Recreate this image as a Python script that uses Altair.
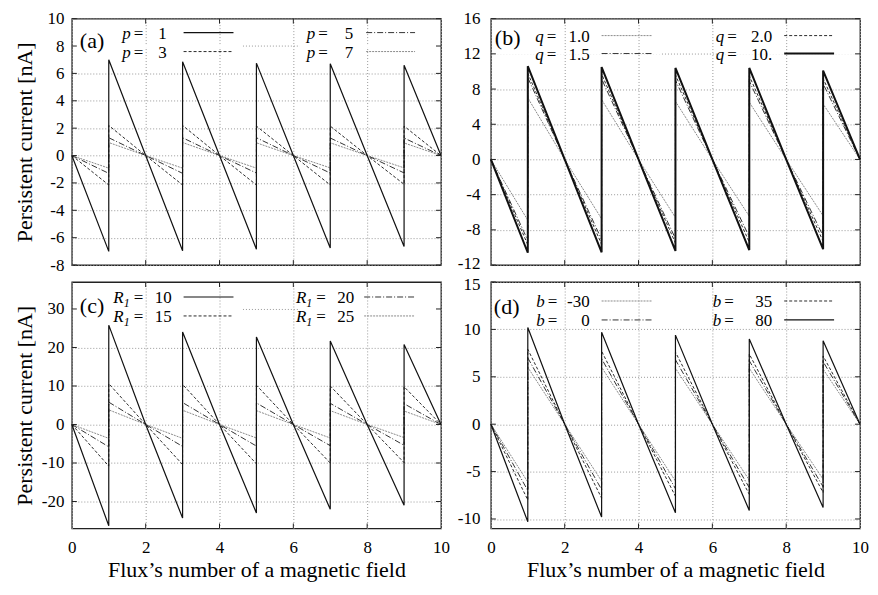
import altair as alt
import pandas as pd

FONT = "Liberation Serif, Times New Roman, serif"

# ---------------- data ----------------
X_JUMPS = [1, 3, 5, 7, 9]          # flux values where the current jumps
X_TICKS = [0, 2, 4, 6, 8, 10]

# panel (a): parameter p
A_VALUES = ["1", "3", "5", "7"]
A_STYLES = ["solid", "dashed", "dashdot", "dotted"]
A_HIGH = [[7.0, 6.85, 6.75, 6.7, 6.6],
          [2.2, 2.2, 2.15, 2.15, 2.15],
          [1.3, 1.3, 1.3, 1.28, 1.28],
          [0.95, 0.95, 0.93, 0.93, 0.92]]
A_LOW = [[7.0, 6.95, 6.85, 6.75, 6.65],
         [2.15, 2.15, 2.15, 2.15, 2.1],
         [1.3, 1.3, 1.28, 1.28, 1.27],
         [0.92, 0.92, 0.92, 0.9, 0.9]]
A_YDOM = [-8, 10]
A_YTICKS = [-8, -6, -4, -2, 0, 2, 4, 6, 8, 10]

# panel (b): parameter q
B_VALUES = ["1.0", "1.5", "2.0", "10."]
B_STYLES = ["dotted", "dashdot", "dashed", "thick"]
B_HIGH = [[7.0, 6.8, 6.6, 6.5, 6.3],
          [9.3, 9.15, 9.0, 8.9, 8.6],
          [9.8, 9.7, 9.6, 9.5, 9.2],
          [10.6, 10.5, 10.4, 10.4, 10.1]]
B_LOW = [[6.9, 6.75, 6.6, 6.45, 6.4],
         [9.2, 9.1, 9.0, 8.8, 8.7],
         [9.7, 9.65, 9.5, 9.4, 9.3],
         [10.6, 10.55, 10.4, 10.3, 10.2]]
B_YDOM = [-12, 16]
B_YTICKS = [-12, -8, -4, 0, 4, 8, 12, 16]

# panel (c): parameter R_1
C_VALUES = ["10", "15", "20", "25"]
C_STYLES = ["solid", "dashed", "dashdot", "dotted"]
C_HIGH = [[25.8, 24.0, 22.7, 21.7, 20.8],
          [10.6, 10.4, 10.2, 10.0, 9.8],
          [5.8, 5.7, 5.6, 5.5, 5.4],
          [3.8, 3.7, 3.6, 3.6, 3.5]]
C_LOW = [[26.3, 24.3, 23.0, 22.0, 21.0],
         [10.8, 10.4, 10.2, 10.0, 9.9],
         [5.8, 5.7, 5.6, 5.5, 5.4],
         [3.6, 3.6, 3.5, 3.5, 3.4]]
C_YDOM = [-27, 37]
C_YTICKS = [-20, -10, 0, 10, 20, 30]

# panel (d): parameter b
D_VALUES = ["-30", "0", "35", "80"]
D_STYLES = ["dotted", "dashdot", "dashed", "solid"]
D_HIGH = [[6.0, 6.0, 5.9, 5.9, 5.8],
          [7.0, 6.9, 6.8, 6.7, 6.6],
          [7.9, 7.7, 7.6, 7.4, 7.2],
          [10.2, 9.7, 9.4, 9.0, 8.8]]
D_LOW = [[6.1, 6.0, 6.0, 5.9, 5.8],
         [7.0, 6.9, 6.8, 6.7, 6.6],
         [8.0, 7.8, 7.6, 7.4, 7.2],
         [10.3, 9.8, 9.35, 9.1, 8.8]]
D_YDOM = [-11, 15]
D_YTICKS = [-10, -5, 0, 5, 10, 15]

# ---------------- styles / layout ----------------
STY = {
    "solid": dict(color="#111111", width=1.2, dash=None),
    "thick": dict(color="#111111", width=2.0, dash=None),
    "dashed": dict(color="#2a2a2a", width=1.0, dash=[3, 2]),
    "dashdot": dict(color="#333333", width=1.0, dash=[6, 2, 1, 2]),
    "dotted": dict(color="#8a8a8a", width=1.0, dash=[2, 1]),
}
DRAW_ORDER = ["dotted", "dashdot", "dashed", "solid", "thick"]

W, H = 370, 247
TICK_FS = 17
ONE = pd.DataFrame({"d": [0]})

PANELS = [
    dict(tag="(a)", var="p", values=A_VALUES, styles=A_STYLES, high=A_HIGH, low=A_LOW,
         ydom=A_YDOM, yticks=A_YTICKS, hide=8, left=True, bottom=False, nudge=None,
         tagpos=(8, 22), eq=(62, 247), vend=(95, 282), lx=((112, 162), (295, 344)), rows=(14, 33)),
    dict(tag="(b)", var="q", values=B_VALUES, styles=B_STYLES, high=B_HIGH, low=B_LOW,
         ydom=B_YDOM, yticks=B_YTICKS, hide=12, left=False, bottom=False, nudge=(-12, -2),
         tagpos=(4, 19), eq=(56, 237), vend=(99, 282), lx=((111, 161), (294, 344)), rows=(17, 35)),
    dict(tag="(c)", var="R", values=C_VALUES, styles=C_STYLES, high=C_HIGH, low=C_LOW,
         ydom=C_YDOM, yticks=C_YTICKS, hide=30, left=True, bottom=True, nudge=None,
         tagpos=(8, 24), eq=(62, 245), vend=(100, 283), lx=((112, 162), (293, 343)), rows=(15, 34)),
    dict(tag="(d)", var="b", values=D_VALUES, styles=D_STYLES, high=D_HIGH, low=D_LOW,
         ydom=D_YDOM, yticks=D_YTICKS, hide=None, left=False, bottom=True, nudge=(15, 2),
         tagpos=(3, 25), eq=(57, 234), vend=(99, 282), lx=((111, 161), (294, 344)), rows=(19, 38)),
]


def saw(high, low):
    xs, ys = [0], [0.0]
    for k, xj in enumerate(X_JUMPS):
        xs += [xj, xj, xj + 1]
        ys += [-low[k], high[k], 0.0]
    return xs, ys


def text_layer(txt, x, y, size=17, italic=False, align="left"):
    kw = dict(text=txt, font=FONT, fontSize=size, align=align, baseline="middle", color="#000000")
    if italic:
        kw["fontStyle"] = "italic"
    return alt.Chart(ONE).mark_text(**kw).encode(x=alt.value(x), y=alt.value(y))


def panel(P):
    rows = []
    for name, hi, lo in zip(P["values"], P["high"], P["low"]):
        xs, ys = saw(hi, lo)
        for i, (x, y) in enumerate(zip(xs, ys)):
            rows.append({"s": name, "i": i, "x": x, "y": y})
    df = pd.DataFrame(rows)

    xsc = alt.Scale(domain=[0, 10], nice=False, zero=False)
    ysc = alt.Scale(domain=P["ydom"], nice=False, zero=False)

    if P["bottom"]:
        xax = alt.Axis(values=X_TICKS, grid=True, labels=True, labelExpr="'' + datum.value",
                       labelFontSize=TICK_FS, labelPadding=11, labelFlush=False,
                       title="Flux’s number of a magnetic field", titleFontSize=22, titlePadding=4)
    else:
        xax = alt.Axis(values=X_TICKS, grid=True, labels=False, title="")

    ykw = dict(values=P["yticks"], grid=True, labelExpr="'' + datum.value",
               labelFontSize=TICK_FS, labelFlush=False)
    if P["nudge"] is not None:
        ykw["labelOffset"] = {"condition": {"test": "datum.value == %d" % P["nudge"][0],
                                            "value": P["nudge"][1]}, "value": 0}
    if P["left"]:
        yax = alt.Axis(labelPadding=8, title="Persistent current [nA]", titleFontSize=22,
                       titlePadding=5, minExtent=30, maxExtent=30, **ykw)
    else:
        yax = alt.Axis(labelPadding=11, title="", **ykw)

    X = lambda f: alt.X(f, scale=xsc, axis=xax)
    Y = lambda f: alt.Y(f, scale=ysc, axis=yax)

    layers = []
    # data lines, lighter styles first
    order = sorted(range(len(P["values"])), key=lambda k: DRAW_ORDER.index(P["styles"][k]))
    for k in order:
        st = STY[P["styles"][k]]
        mk = dict(color=st["color"], strokeWidth=st["width"])
        if st["dash"]:
            mk["strokeDash"] = st["dash"]
        layers.append(
            alt.Chart(df).transform_filter(alt.datum.s == P["values"][k]).mark_line(**mk).encode(
                x=X("x:Q"), y=Y("y:Q"), order=alt.Order("i:Q"),
            )
        )

    # grid line hidden under the key
    if P["hide"] is not None:
        hd = pd.DataFrame({"v": [P["hide"]]})
        for a, b in [(1, 171), (228, W - 1)]:
            layers.insert(0, alt.Chart(hd).mark_rule(color="white", strokeWidth=2).encode(
                y=Y("v:Q"), x=alt.value(a), x2=alt.value(b)))

    # inward ticks on all four sides
    tx = pd.DataFrame({"v": X_TICKS[1:-1]})
    ty = pd.DataFrame({"v": P["yticks"]})
    for y0, y1 in [(H, H - 5), (0, 5)]:
        layers.append(alt.Chart(tx).mark_rule(color="#222222", strokeWidth=1).encode(
            x=X("v:Q"), y=alt.value(y0), y2=alt.value(y1)))
    for x0, x1 in [(0, 5), (W - 5, W)]:
        layers.append(alt.Chart(ty).mark_rule(color="#222222", strokeWidth=1).encode(
            y=Y("v:Q"), x=alt.value(x0), x2=alt.value(x1)))

    # panel tag
    layers.append(text_layer(P["tag"], P["tagpos"][0], P["tagpos"][1], size=22))

    # key
    for idx, (val, sty) in enumerate(zip(P["values"], P["styles"])):
        col, row = idx // 2, idx % 2
        ly = P["rows"][row]
        eq = P["eq"][col]
        st = STY[sty]
        mk = dict(color=st["color"], strokeWidth=st["width"])
        if st["dash"]:
            mk["strokeDash"] = st["dash"]
        x0, x1 = P["lx"][col]
        layers.append(alt.Chart(ONE).mark_rule(**mk).encode(
            x=alt.value(x0), x2=alt.value(x1), y=alt.value(ly)))
        if P["var"] == "R":
            layers.append(text_layer("R", eq - 10, ly + 1, italic=True, align="right"))
            layers.append(text_layer("1", eq - 10, ly + 6, size=12, italic=True, align="left"))
        else:
            layers.append(text_layer(P["var"], eq - 3, ly + 1, italic=True, align="right"))
        layers.append(text_layer("=", eq, ly + 1, align="left"))
        layers.append(text_layer(val, P["vend"][col], ly + 1, align="right"))

    return alt.layer(*layers).properties(width=W, height=H)


charts = [panel(P) for P in PANELS]

chart = alt.concat(
    *charts, columns=2, spacing={"row": 17, "column": 50}, bounds="flush"
).properties(
    padding={"left": 5, "top": 0, "right": 0, "bottom": 0},
    background="white",
).configure_view(
    stroke="#222222", strokeWidth=1.3
).configure_axis(
    domain=False, ticks=False, tickSize=0,
    labelFont=FONT, titleFont=FONT, labelColor="#000000", titleColor="#000000",
    titleFontWeight="normal", gridColor="#999999", gridDash=[1, 2], gridWidth=1,
)

chart.save("out.html", embed_options={"renderer": "svg", "actions": False})
